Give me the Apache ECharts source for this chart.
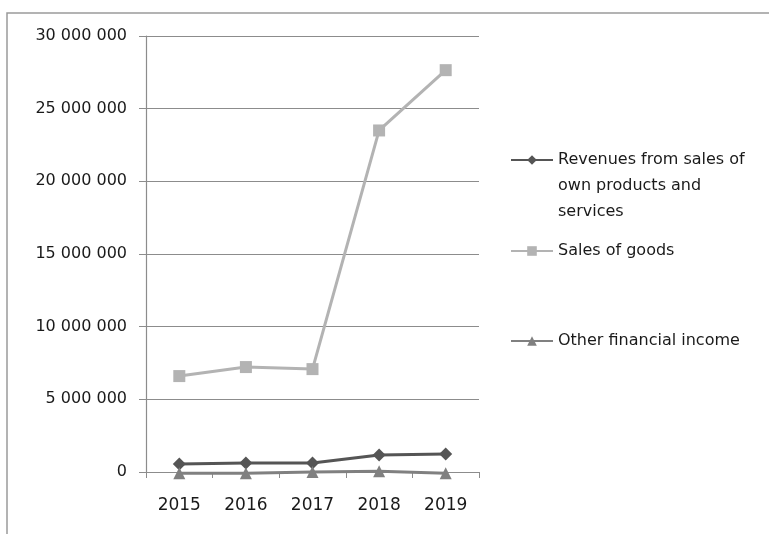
<!DOCTYPE html>
<html>
<head>
<meta charset="utf-8">
<script src="https://cdn.jsdelivr.net/npm/echarts@6/dist/echarts.min.js"></script>
<style>
  html, body { margin: 0; padding: 0; background: #fff; }
  #chart { width: 769px; height: 534px; }
</style>
</head>
<body>
<div id="chart"></div>
<script>
// Years on the category axis
const years = ['2015', '2016', '2017', '2018', '2019'];

// Series values
const revenuesOwnProducts = [550000, 620000, 620000, 1170000, 1240000];
const salesOfGoods = [6600000, 7220000, 7080000, 23500000, 27650000];
const otherFinancialIncome = [-80000, -80000, 0, 50000, -80000];

// Series names shown in the legend
const seriesNames = [
  'Revenues from sales of own products and services',
  'Sales of goods',
  'Other financial income'
];
const legendLabels = [
  'Revenues from sales of\nown products and\nservices',
  'Sales of goods',
  'Other financial income'
];

// Value axis ticks
const yMin = 0, yMax = 30000000, yStep = 5000000;

function fmtThousands(v) {
  return String(v).replace(/\B(?=(\d{3})+(?!\d))/g, ' ');
}

const chart = echarts.init(document.getElementById('chart'));
const FONT = 'DejaVu Sans';
const textColor = '#1a1a1a';

const legendBase = {
  orient: 'vertical',
  left: 510,
  padding: 0,
  itemWidth: 42,
  itemHeight: 12,
  selectedMode: false,
  textStyle: { fontFamily: FONT, fontSize: 16, color: textColor, lineHeight: 26 },
  formatter: function (name) { return legendLabels[seriesNames.indexOf(name)]; }
};

chart.setOption({
  animation: false,
  backgroundColor: '#fff',
  graphic: [{
    type: 'rect',
    shape: { x: 7, y: 13, width: 800, height: 600 },
    style: { fill: 'none', stroke: '#9a9a9a', lineWidth: 1.5 },
    silent: true
  }],
  grid: { left: 146, right: 290, top: 36, bottom: 62, containLabel: false },
  legend: [
    Object.assign({}, legendBase, {
      top: 95,
      data: [seriesNames[0]],
      formatter: function () { return '\n\n' + legendLabels[0]; }
    }),
    Object.assign({}, legendBase, { top: 238, data: [seriesNames[1]] }),
    Object.assign({}, legendBase, { top: 328, data: [seriesNames[2]] })
  ],
  xAxis: {
    type: 'category',
    data: years,
    boundaryGap: true,
    axisLine: { show: true, onZero: false, lineStyle: { color: '#8c8c8c', width: 1.2 } },
    axisTick: { show: true, length: 6, alignWithLabel: false, lineStyle: { color: '#8c8c8c' } },
    axisLabel: { fontFamily: FONT, fontSize: 17, color: textColor, margin: 25 },
    splitLine: { show: false }
  },
  yAxis: {
    type: 'value',
    min: yMin,
    max: yMax,
    interval: yStep,
    axisLine: { show: true, lineStyle: { color: '#8c8c8c', width: 1.2 } },
    axisTick: { show: true, inside: false, length: 7, lineStyle: { color: '#8c8c8c' } },
    axisLabel: {
      fontFamily: FONT, fontSize: 16, color: textColor, margin: 19,
      formatter: function (v) { return fmtThousands(v); }
    },
    splitLine: { show: true, lineStyle: { color: '#8c8c8c', width: 1 } }
  },
  series: [
    {
      name: seriesNames[0], type: 'line', data: revenuesOwnProducts,
      symbol: 'diamond', symbolSize: 13, clip: false,
      lineStyle: { color: '#555555', width: 3 },
      itemStyle: { color: '#555555' }, z: 4
    },
    {
      name: seriesNames[1], type: 'line', data: salesOfGoods,
      symbol: 'rect', symbolSize: 12, clip: false,
      lineStyle: { color: '#b3b3b3', width: 3 },
      itemStyle: { color: '#b3b3b3' }, z: 3
    },
    {
      name: seriesNames[2], type: 'line', data: otherFinancialIncome,
      symbol: 'triangle', symbolSize: 12, clip: false,
      lineStyle: { color: '#808080', width: 3 },
      itemStyle: { color: '#808080' }, z: 5
    }
  ]
});
</script>
</body>
</html>
